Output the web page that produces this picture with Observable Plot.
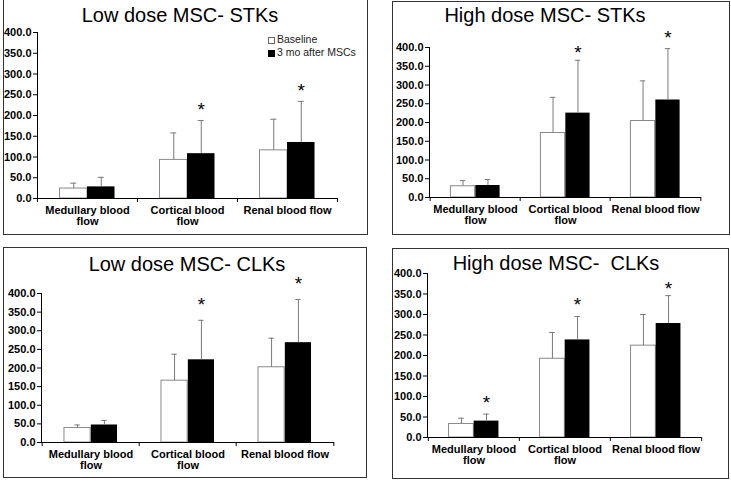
<!DOCTYPE html>
<html>
<head>
<meta charset="utf-8">
<script src="https://cdn.jsdelivr.net/npm/d3@7"></script>
<script src="https://cdn.jsdelivr.net/npm/@observablehq/plot@0.6"></script>
<style>
  html, body { margin: 0; padding: 0; background: #fff; }
  #root { position: relative; width: 731px; height: 483px; overflow: hidden; background: #fff;
          font-family: "Liberation Sans", Arial, sans-serif; }
  .box { position: absolute; border: 1.5px solid #333; box-sizing: border-box; pointer-events: none; }
  .svgwrap { position: absolute; }
  .title { position: absolute; font-size: 20px; color: #000; white-space: pre; transform: translate(-50%, -50%); }
  .legend { position: absolute; font-size: 10.5px; color: #222; line-height: 13px; }
  .legend .sw { display: inline-block; width: 7px; height: 7px; margin-right: 2px; vertical-align: -0.5px; box-sizing: border-box; }
</style>
</head>
<body>
<div id="root"></div>
<script>
// ---- data ----
const categories = ["Medullary blood flow", "Cortical blood flow", "Renal blood flow"];
const categoryLabels = ["Medullary blood\nflow", "Cortical blood\nflow", "Renal blood flow"];
const seriesNames = ["Baseline", "3 mo after MSCs"];
const yTicks = [0, 50, 100, 150, 200, 250, 300, 350, 400];

// Low dose MSC- STKs
const lowStkBaseline = [24, 93, 116];
const lowStkBaselineSd = [13, 65, 75];
const lowStk3mo = [28, 108, 135];
const lowStk3moSd = [23, 80, 99];
const lowStkStars = [null, 222, 270];

// High dose MSC- STKs
const highStkBaseline = [30, 172, 204];
const highStkBaselineSd = [15, 95, 107];
const highStk3mo = [32, 225, 260];
const highStk3moSd = [16, 141, 137];
const highStkStars = [null, 397, 436];

// Low dose MSC- CLKs
const lowClkBaseline = [39, 166, 202];
const lowClkBaselineSd = [8, 71, 78];
const lowClk3mo = [47, 222, 268];
const lowClk3moSd = [12, 106, 116];
const lowClkStars = [null, 380, 436];

// High dose MSC- CLKs
const highClkBaseline = [33, 192, 224];
const highClkBaselineSd = [14, 64, 76];
const highClk3mo = [40, 238, 278];
const highClk3moSd = [17, 57, 68];
const highClkStars = [94, 333, 372];

const root = document.getElementById("root");

function panel(cfg) {
  const {title, base, baseSd, mo3, mo3Sd, stars, box, m, titlePos, legend} = cfg;
  const width = box.w, height = box.h;
  const rows = categories.map((c, i) => ({c, b: base[i], bs: baseSd[i], m: mo3[i], ms: mo3Sd[i], s: stars[i]}));
  const bw = (width - m.l - m.r) / categories.length;
  const barW = bw * 0.275;
  const capHalf = 3;

  const chart = Plot.plot({
    width, height,
    marginLeft: m.l, marginRight: m.r, marginTop: m.t, marginBottom: m.b,
    style: {fontFamily: "'Liberation Sans', Arial, sans-serif", background: "transparent", overflow: "visible", color: "#000"},
    x: {type: "band", domain: categories, padding: 0},
    y: {domain: [0, 400]},
    marks: [
      Plot.barY(rows, {x: "c", y: "b", fill: "white", stroke: "#8a8a8a", strokeWidth: 1,
        insetLeft: bw / 2 - barW, insetRight: bw / 2}),
      Plot.barY(rows, {x: "c", y: "m", fill: "black",
        insetLeft: bw / 2, insetRight: bw / 2 - barW}),
      // error bars (plus only)
      Plot.ruleX(rows, {x: "c", y1: "b", y2: d => d.b + d.bs, stroke: "#7a7a7a", dx: -barW / 2}),
      Plot.tickY(rows, {x: "c", y: d => d.b + d.bs, stroke: "#7a7a7a",
        insetLeft: bw / 2 - barW / 2 - capHalf, insetRight: bw / 2 + barW / 2 - capHalf}),
      Plot.ruleX(rows, {x: "c", y1: "m", y2: d => d.m + d.ms, stroke: "#7a7a7a", dx: barW / 2}),
      Plot.tickY(rows, {x: "c", y: d => d.m + d.ms, stroke: "#7a7a7a",
        insetLeft: bw / 2 + barW / 2 - capHalf, insetRight: bw / 2 - barW / 2 - capHalf}),
      // significance stars
      Plot.text(rows.filter(d => d.s != null), {x: "c", y: "s", text: () => "*", dx: barW / 2, dy: 4,
        fontSize: 19, fill: "#000"}),
      // axes
      Plot.axisY({ticks: yTicks, tickFormat: d => d.toFixed(1), tickSize: 4, tickPadding: 2,
        fontSize: 11, fontWeight: "bold", stroke: "#000", fill: "#000", label: null}),
      Plot.frame({anchor: "left", stroke: "#000"}),
      Plot.ruleY([0], {stroke: "#000"}),
      Plot.ruleX(categories, {x: d => d, y1: 0, y2: 0, insetBottom: -4, dx: -bw / 2, stroke: "#000"}),
      Plot.ruleX(categories.slice(-1), {x: d => d, y1: 0, y2: 0, insetBottom: -4, dx: bw / 2, stroke: "#000"}),
      Plot.axisX({tickSize: 0, tickPadding: 7, tickFormat: (d, i) => categoryLabels[categories.indexOf(d)],
        fontSize: 11, fontWeight: "bold", fill: "#000", lineHeight: 1.05, label: null})
    ]
  });

  const wrap = document.createElement("div");
  wrap.className = "svgwrap";
  wrap.style.left = box.x + "px";
  wrap.style.top = box.y + "px";
  wrap.appendChild(chart);
  root.appendChild(wrap);

  const b = document.createElement("div");
  b.className = "box";
  Object.assign(b.style, {left: box.x + "px", top: box.y + "px", width: box.w + "px", height: box.h + "px"});
  root.appendChild(b);

  const t = document.createElement("div");
  t.className = "title";
  t.textContent = title;
  t.style.left = titlePos[0] + "px";
  t.style.top = titlePos[1] + "px";
  root.appendChild(t);

  if (legend) {
    const lg = document.createElement("div");
    lg.className = "legend";
    lg.style.left = legend[0] + "px";
    lg.style.top = legend[1] + "px";
    lg.innerHTML =
      `<div><span class="sw" style="border:1px solid #666;background:#fff"></span>${seriesNames[0]}</div>` +
      `<div><span class="sw" style="background:#000"></span>${seriesNames[1]}</div>`;
    root.appendChild(lg);
  }
}

panel({
  title: "Low dose MSC- STKs",
  base: lowStkBaseline, baseSd: lowStkBaselineSd, mo3: lowStk3mo, mo3Sd: lowStk3moSd, stars: lowStkStars,
  box: {x: 3, y: -1, w: 365, h: 236},
  m: {l: 34, r: 31, t: 33, b: 37},
  titlePos: [180, 15],
  legend: [268, 33]
});
panel({
  title: "High dose MSC- STKs",
  base: highStkBaseline, baseSd: highStkBaselineSd, mo3: highStk3mo, mo3Sd: highStk3moSd, stars: highStkStars,
  box: {x: 392, y: 1, w: 338, h: 234},
  m: {l: 37, r: 29, t: 46, b: 38},
  titlePos: [545, 15],
  legend: null
});
panel({
  title: "Low dose MSC- CLKs",
  base: lowClkBaseline, baseSd: lowClkBaselineSd, mo3: lowClk3mo, mo3Sd: lowClk3moSd, stars: lowClkStars,
  box: {x: 3, y: 247, w: 364, h: 231},
  m: {l: 38, r: 33, t: 46, b: 36},
  titlePos: [187, 264],
  legend: null
});
panel({
  title: "High dose MSC-  CLKs",
  base: highClkBaseline, baseSd: highClkBaselineSd, mo3: highClk3mo, mo3Sd: highClk3moSd, stars: highClkStars,
  box: {x: 392, y: 248, w: 337, h: 231},
  m: {l: 35, r: 28, t: 25, b: 42},
  titlePos: [556, 263],
  legend: null
});
</script>
</body>
</html>
